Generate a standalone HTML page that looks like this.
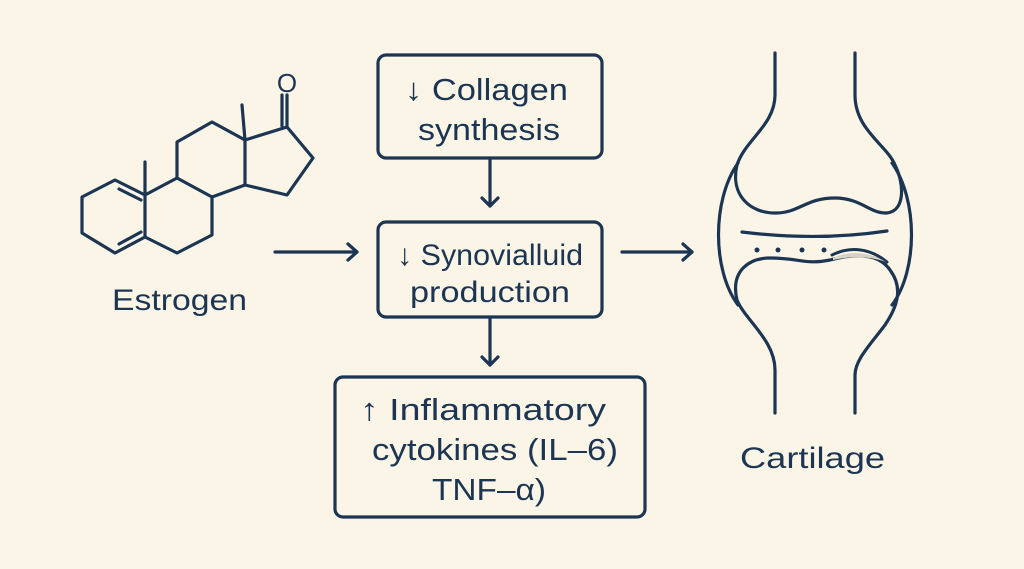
<!DOCTYPE html>
<html><head><meta charset="utf-8"><style>
html,body{margin:0;padding:0;background:#fbf5e7;}
svg{display:block}
text{font-family:"Liberation Sans","DejaVu Sans",sans-serif;fill:#1b3553;}
</style></head><body>
<svg width="1024" height="569" viewBox="0 0 1024 569" xmlns="http://www.w3.org/2000/svg">
<rect width="1024" height="569" fill="#fbf5e7"/>
<g fill="none" stroke="#1b3553" stroke-width="3.2" stroke-linejoin="round" stroke-linecap="round">
<!-- estrogen -->
<polygon points="82,197 115,180 145,195 145,237 115,253 82,233"/>
<line x1="119" y1="189" x2="141" y2="200"/>
<line x1="119" y1="244" x2="141" y2="232"/>
<polyline points="145,237 177,253 212,235 212,197 177,178 145,195"/>
<line x1="145" y1="195" x2="145" y2="162"/>
<polyline points="177,178 177,142 212,122 245,140 245,185 212,197"/>
<line x1="245" y1="140" x2="242" y2="105"/>
<polyline points="245,140 287,127 313,158 287,195 245,185"/>
<line x1="287" y1="127" x2="287" y2="95"/>
<line x1="282" y1="126" x2="282" y2="95"/>
<!-- arrows -->
<line x1="275" y1="252" x2="357" y2="252"/>
<polyline points="348,244 357,252 348,260"/>
<line x1="622" y1="252" x2="692" y2="252"/>
<polyline points="683,244 692,252 683,260"/>
<line x1="490" y1="158" x2="490" y2="206"/>
<polyline points="482,198 490,206 498,198"/>
<line x1="490" y1="317" x2="490" y2="365"/>
<polyline points="482,357 490,365 498,357"/>
<!-- boxes -->
<rect x="378" y="55" width="224" height="103" rx="8"/>
<rect x="378" y="222" width="224" height="95" rx="8"/>
<rect x="335" y="377" width="310" height="140" rx="8"/>
<!-- joint -->
<path d="M775,53 L775,95 C775,125 745,140 737,165 C730,195 750,213 775,213 C800,213 805,198 835,198 C860,198 870,213 885,213 C905,213 905,185 895,165 C887,145 855,130 855,95 L855,53"/>
<path d="M775,413 L775,370 C775,340 745,320 737,300 C730,270 750,258 770,258 C800,258 805,265 830,260 C860,252 880,255 890,270 C905,290 895,310 885,325 C870,345 855,360 855,375 L855,413"/>
<path d="M738,163 C712,200 712,270 738,305"/>
<path d="M892,163 C918,200 918,270 892,305"/>
<path d="M742,232 C790,238 840,238 887,231"/>
<path d="M832,255 C850,246 870,248 887,262" stroke-width="3"/>
</g>
<path d="M833,258 C850,250 870,252 886,262 C870,256 850,256 833,260 Z" fill="#d8d2c2"/>
<g fill="#1b3553"><circle cx="757" cy="250" r="2.5"/><circle cx="778" cy="250" r="2.5"/><circle cx="802" cy="250" r="2.5"/><circle cx="824" cy="250" r="2.5"/></g>
<text x="287" y="92" font-size="26" text-anchor="middle">O</text>
<text x="112" y="310" font-size="30" textLength="135" lengthAdjust="spacingAndGlyphs">Estrogen</text>
<text x="740" y="468" font-size="30" textLength="145" lengthAdjust="spacingAndGlyphs">Cartilage</text>
<text x="405" y="100" font-size="31" textLength="163" lengthAdjust="spacingAndGlyphs">↓ Collagen</text>
<text x="418" y="140" font-size="31" textLength="142" lengthAdjust="spacingAndGlyphs">synthesis</text>
<text x="397" y="265" font-size="30" textLength="186" lengthAdjust="spacingAndGlyphs">↓ Synovialluid</text>
<text x="410" y="302" font-size="30" textLength="160" lengthAdjust="spacingAndGlyphs">production</text>
<text x="360" y="420" font-size="31" textLength="246" lengthAdjust="spacingAndGlyphs">↑ Inflammatory</text>
<text x="372" y="460" font-size="31" textLength="246" lengthAdjust="spacingAndGlyphs">cytokines (IL–6)</text>
<text x="432" y="500" font-size="31" textLength="114" lengthAdjust="spacingAndGlyphs">TNF–α)</text>
</svg>
</body></html>
